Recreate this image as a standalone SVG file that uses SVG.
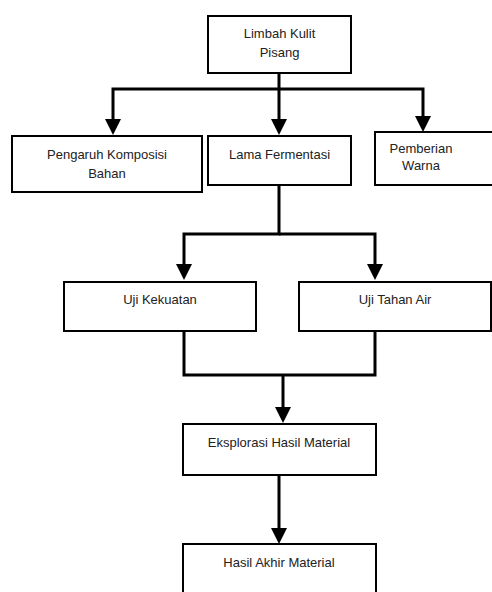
<svg xmlns="http://www.w3.org/2000/svg" width="492" height="592" viewBox="0 0 492 592">
<style>
.box{fill:#fff;stroke:#000;stroke-width:2}
.lbl{font-family:"Liberation Sans",Arial,sans-serif;font-size:13px;fill:#222;text-anchor:middle}
.con{fill:none;stroke:#000;stroke-width:3;stroke-linejoin:miter}
</style>
<defs>
<marker id="ah" viewBox="0 0 16 16" markerWidth="16" markerHeight="16" markerUnits="userSpaceOnUse" refX="6" refY="8" orient="auto">
<path d="M0,0 L16,8 L0,16 z" fill="#000"/>
</marker>
</defs>
<rect width="492" height="592" fill="#fff"/>
<g id="connectors">
<path class="con" d="M279,73 V125" marker-end="url(#ah)"/>
<path class="con" d="M279,89 H113 V125" marker-end="url(#ah)"/>
<path class="con" d="M279,89 H423 V122" marker-end="url(#ah)"/>
<path class="con" d="M279,185 V234 H184 V270" marker-end="url(#ah)"/>
<path class="con" d="M279,234 H375 V270" marker-end="url(#ah)"/>
<path class="con" d="M184,331 V375 H375 V331"/>
<path class="con" d="M283,375 V413" marker-end="url(#ah)"/>
<path class="con" d="M279,475 V534" marker-end="url(#ah)"/>
</g>
<g id="limbah">
<rect class="box" x="208" y="16" width="143" height="57"/>
<text class="lbl" x="279.5" y="38">Limbah Kulit</text>
<text class="lbl" x="279.5" y="57">Pisang</text>
</g>
<g id="pengaruh">
<rect class="box" x="12" y="136" width="190" height="56"/>
<text class="lbl" x="107" y="159">Pengaruh Komposisi</text>
<text class="lbl" x="107" y="178">Bahan</text>
</g>
<g id="lama">
<rect class="box" x="208" y="136" width="143" height="49"/>
<text class="lbl" x="279.5" y="159">Lama Fermentasi</text>
</g>
<g id="pemberian">
<rect class="box" x="375" y="132" width="125" height="53"/>
<text class="lbl" x="421" y="153">Pemberian</text>
<text class="lbl" x="421" y="170">Warna</text>
</g>
<g id="kekuatan">
<rect class="box" x="64" y="282" width="192" height="49"/>
<text class="lbl" x="160" y="304">Uji Kekuatan</text>
</g>
<g id="tahanair">
<rect class="box" x="299" y="282" width="192" height="49"/>
<text class="lbl" x="395" y="304">Uji Tahan Air</text>
</g>
<g id="eksplorasi">
<rect class="box" x="183" y="424" width="193" height="51"/>
<text class="lbl" x="279" y="447">Eksplorasi Hasil Material</text>
</g>
<g id="hasil">
<rect class="box" x="183" y="544" width="193" height="60"/>
<text class="lbl" x="279" y="567">Hasil Akhir Material</text>
</g>
</svg>
